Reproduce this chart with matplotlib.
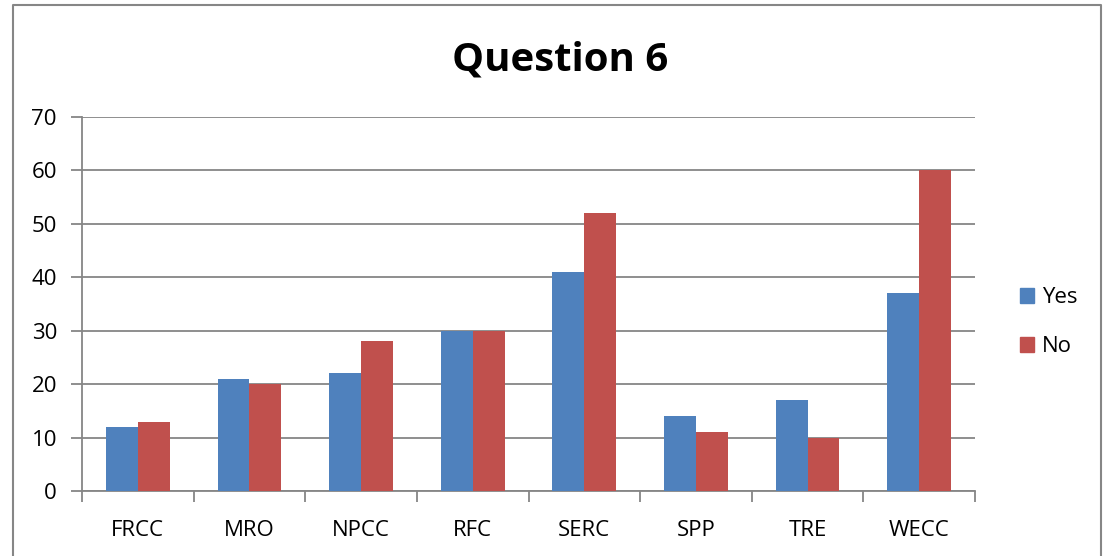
import matplotlib.pyplot as plt
import numpy as np
from matplotlib.lines import Line2D
from matplotlib.patches import Patch

plt.rcParams['font.family'] = ['Open Sans', 'DejaVu Sans']

# data
regions = ['FRCC', 'MRO', 'NPCC', 'RFC', 'SERC', 'SPP', 'TRE', 'WECC']
yes = [12, 21, 22, 30, 41, 14, 17, 37]
no = [13, 20, 28, 30, 52, 11, 10, 60]

blue = '#4F81BD'
red = '#C0504D'
grey = '#868686'

fig = plt.figure(figsize=(11.04, 5.56), dpi=100)
ax = fig.add_axes([82/1104, 65/556, (975-82)/1104, (491-117)/556])

x = np.arange(len(regions))
w = 1/3.5
ax.bar(x - w/2, yes, w, color=blue, edgecolor='none', label='Yes', zorder=3)
ax.bar(x + w/2, no, w, color=red, edgecolor='none', label='No', zorder=3)

ax.set_xlim(-0.5, len(regions) - 0.5)
ax.set_ylim(0, 70)
ax.set_yticks(range(0, 71, 10))
ax.yaxis.grid(True, color=grey, linewidth=1.3, zorder=0)
ax.set_axisbelow(True)

# x ticks on category boundaries, labels centered
ax.set_xticks(np.arange(-0.5, len(regions), 1))
ax.set_xticklabels([])
ax.set_xticks(x, minor=True)
ax.set_xticklabels(regions, minor=True)
ax.tick_params(axis='x', which='minor', length=0, pad=21, labelsize=16)
ax.tick_params(axis='x', which='major', length=8, color=grey, width=1.3)
ax.tick_params(axis='y', length=8, color=grey, width=1.3, labelsize=16, pad=10)

for s in ['top', 'right']:
    ax.spines[s].set_visible(False)
for s in ['left', 'bottom']:
    ax.spines[s].set_color(grey)
    ax.spines[s].set_linewidth(1.3)

fig.text(560/1104, 1 - 60/556, 'Question 6', ha='center', va='center',
         fontsize=29, fontweight='bold')

handles = [Patch(color=blue, label='Yes'), Patch(color=red, label='No')]
fig.legend(handles=handles, loc='center left', bbox_to_anchor=(1000/1104, 1 - 322/556),
           frameon=False, fontsize=16, handlelength=0.65, handleheight=0.65,
           handletextpad=0.35, labelspacing=1.25)

# outer chart border (left, top, right)
fig.add_artist(Line2D([13/1104, 13/1104, 1101/1104, 1101/1104],
                      [0, 1 - 5/556, 1 - 5/556, 0], color=grey, linewidth=1.5))

fig.savefig('out.png', dpi=100)
